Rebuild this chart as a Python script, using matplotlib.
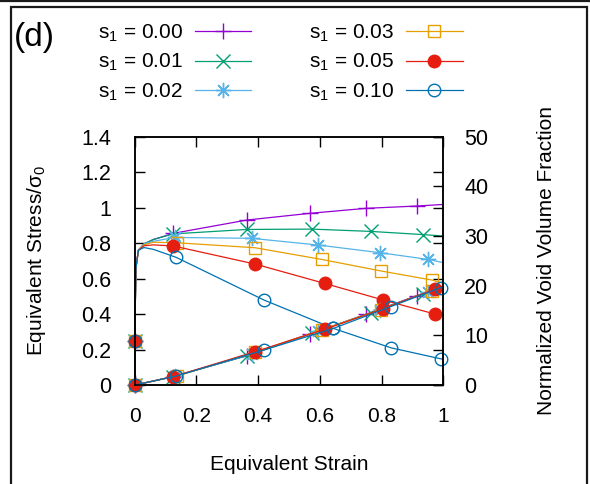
import matplotlib
matplotlib.use('Agg')
import matplotlib.pyplot as plt
from matplotlib.patches import Rectangle
from matplotlib.lines import Line2D

plt.rcParams['font.family'] = ['Liberation Sans', 'DejaVu Sans']
plt.rcParams['mathtext.fontset'] = 'custom'
plt.rcParams['mathtext.rm'] = 'Liberation Sans'
plt.rcParams['mathtext.it'] = 'Liberation Sans'
plt.rcParams['font.size'] = 15

# equivalent strain, stress / sigma0 (left axis), normalized void volume fraction (right axis)
strain_000 = [0, 0, 0.004, 0.012, 0.03, 0.06, 0.125, 0.363, 0.568, 0.749, 0.914, 1.0]
stress_000 = [0, 0.25, 0.66, 0.76, 0.795, 0.82, 0.855, 0.93, 0.968, 0.996, 1.009, 1.018]
void_000 = [0, 0, 0.05, 0.15, 0.4, 0.8, 1.7, 5.9, 10.3, 14.2, 18.0, 19.8]

strain_001 = [0, 0, 0.004, 0.012, 0.03, 0.06, 0.125, 0.363, 0.574, 0.765, 0.934, 1.0]
stress_001 = [0, 0.25, 0.66, 0.76, 0.795, 0.82, 0.852, 0.877, 0.879, 0.866, 0.848, 0.84]
void_001 = [0, 0, 0.05, 0.15, 0.4, 0.8, 1.7, 5.9, 10.4, 14.6, 18.4, 19.9]

strain_002 = [0, 0, 0.004, 0.012, 0.03, 0.06, 0.13, 0.379, 0.595, 0.795, 0.951, 1.0]
stress_002 = [0, 0.25, 0.66, 0.76, 0.795, 0.81, 0.832, 0.827, 0.789, 0.746, 0.708, 0.69]
void_002 = [0, 0, 0.05, 0.15, 0.4, 0.8, 1.8, 6.3, 10.9, 15.1, 18.8, 19.9]

strain_003 = [0, 0, 0.004, 0.012, 0.03, 0.06, 0.136, 0.39, 0.606, 0.798, 0.962, 1.0]
stress_003 = [0, 0.25, 0.66, 0.76, 0.79, 0.805, 0.802, 0.774, 0.708, 0.643, 0.592, 0.573]
void_003 = [0, 0, 0.05, 0.15, 0.4, 0.8, 1.8, 6.6, 11.1, 15.2, 19.0, 20.0]

strain_005 = [0, 0, 0.004, 0.012, 0.03, 0.06, 0.125, 0.39, 0.615, 0.806, 0.973, 1.0]
stress_005 = [0, 0.25, 0.66, 0.76, 0.785, 0.79, 0.784, 0.682, 0.573, 0.479, 0.40, 0.39]
void_005 = [0, 0, 0.05, 0.15, 0.4, 0.8, 1.7, 6.7, 11.2, 15.4, 19.3, 19.9]

strain_010 = [0, 0, 0.004, 0.012, 0.03, 0.06, 0.134, 0.419, 0.644, 0.83, 0.991, 1.0]
stress_010 = [0, 0.25, 0.66, 0.76, 0.775, 0.765, 0.72, 0.479, 0.319, 0.21, 0.148, 0.145]
void_010 = [0, 0, 0.05, 0.15, 0.4, 0.8, 1.8, 7.05, 11.4, 15.8, 19.6, 19.8]

labels = ['s$_1$ = 0.00', 's$_1$ = 0.01', 's$_1$ = 0.02',
          's$_1$ = 0.03', 's$_1$ = 0.05', 's$_1$ = 0.10']
stress_marks = [1, 6, 7, 8, 9, 10]
void_marks = [0, 6, 7, 8, 9, 10]

x_ticks = [0, 0.2, 0.4, 0.6, 0.8, 1.0]
x_ticklabels = ['0', '0.2', '0.4', '0.6', '0.8', '1']
y_ticks = [0, 0.2, 0.4, 0.6, 0.8, 1.0, 1.2, 1.4]
y_ticklabels = ['0', '0.2', '0.4', '0.6', '0.8', '1', '1.2', '1.4']
y2_ticks = [0, 10, 20, 30, 40, 50]

colors = ['#9400D3', '#009E73', '#56B4E9', '#E69F00', '#E51E10', '#0072B2']
markers = ['+', 'x', (8, 2, 0), 's', 'o', 'o']
msizes = [12, 9.5, 11, 9, 9, 9]
fills = ['full', 'full', 'full', 'none', 'full', 'none']

strains = [strain_000, strain_001, strain_002, strain_003, strain_005, strain_010]
stresses = [stress_000, stress_001, stress_002, stress_003, stress_005, stress_010]
voids = [void_000, void_001, void_002, void_003, void_005, void_010]

fig = plt.figure(figsize=(5.9, 4.84), dpi=100)
ax = fig.add_axes([0.2283, 0.2045, 0.5231, 0.5131])
ax2 = ax.twinx()

for i in range(6):
    ax.plot(strains[i], stresses[i], color=colors[i], lw=0.9, marker=markers[i],
            ms=msizes[i], mew=1.0, fillstyle=fills[i], markevery=stress_marks,
            label=labels[i], clip_on=False)
    ax2.plot(strains[i], voids[i], color=colors[i], lw=0.9, marker=markers[i],
             ms=msizes[i], mew=1.0, fillstyle=fills[i], markevery=void_marks,
             clip_on=False)

ax.set_xlim(0, 1)
ax.set_ylim(0, 1.4)
ax2.set_ylim(0, 50)
ax.set_xticks(x_ticks)
ax.set_xticklabels(x_ticklabels)
ax.set_yticks(y_ticks)
ax.set_yticklabels(y_ticklabels)
ax2.set_yticks(y2_ticks)

ax.tick_params(direction='in', length=7, width=1, top=True, right=True, pad=16)
ax.tick_params(axis='y', pad=17, labelsize=15.5)
ax2.tick_params(direction='in', length=7, width=1, pad=15, labelsize=15.5)
for a in (ax, ax2):
    for s in a.spines.values():
        s.set_linewidth(1.1)

ax.set_xlabel('Equivalent Strain', labelpad=21)
ax.set_ylabel('Equivalent Stress/$\\sigma_0$', labelpad=24)
ax2.set_ylabel('Normalized Void Volume Fraction', labelpad=35)

fig.legend(loc='upper left', bbox_to_anchor=(0.148, 0.975), ncol=2, markerfirst=False,
           frameon=False, handlelength=2.7, handletextpad=0.6, columnspacing=2.75,
           labelspacing=0.4, borderpad=0, fontsize=15)

fig.text(0.059, 0.922, '(d)', fontsize=24, ha='center', va='center')

# panel frame
fig.add_artist(Rectangle((11 / 590, -0.05), 576 / 590, 1.05 - 7.5 / 484, transform=fig.transFigure,
                         fill=False, lw=1.6, ec='#1a1a1a'))
fig.add_artist(Line2D([0, 1], [1 - 1 / 484, 1 - 1 / 484], transform=fig.transFigure,
                      lw=1.6, color='#1a1a1a'))

fig.savefig('out.png', dpi=100)
